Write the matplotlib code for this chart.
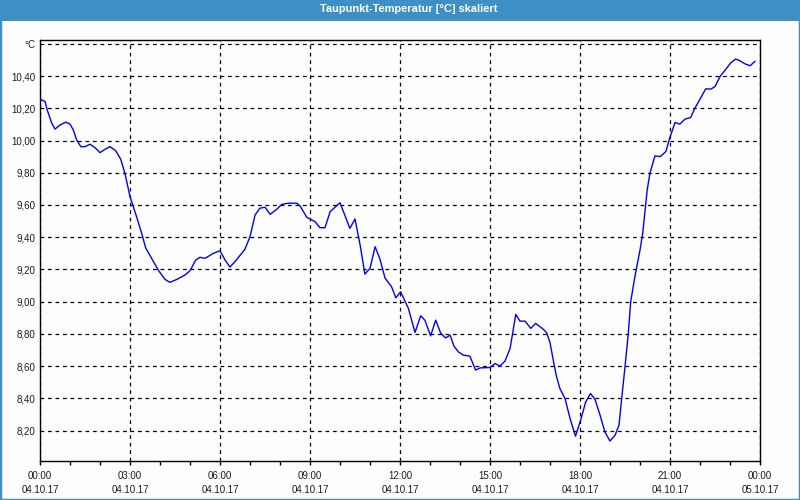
import matplotlib
matplotlib.use('Agg')
import matplotlib.pyplot as plt
from matplotlib.patches import Rectangle
from matplotlib.ticker import FixedLocator, MultipleLocator

# dew point readings, hours after 04.10.17 00:00
hours = [0.00, 0.17, 0.24, 0.39, 0.50, 0.67, 0.86, 1.00, 1.11, 1.22, 1.36, 1.50,
         1.67, 1.83, 2.00, 2.17, 2.33, 2.52, 2.69, 2.83, 3.00, 3.22, 3.39, 3.52,
         3.72, 3.94, 4.17, 4.33, 4.56, 4.83, 5.00, 5.19, 5.33, 5.50, 5.78, 6.00,
         6.17, 6.33, 6.50, 6.83, 7.00, 7.17, 7.33, 7.50, 7.67, 7.89, 8.06, 8.28,
         8.56, 8.67, 8.89, 9.17, 9.33, 9.50, 9.67, 10.00, 10.33, 10.50, 10.67,
         10.83, 11.00, 11.17, 11.33, 11.50, 11.72, 11.86, 12.02, 12.28, 12.50,
         12.69, 12.83, 13.02, 13.19, 13.36, 13.52, 13.67, 13.80, 13.94, 14.11,
         14.33, 14.52, 14.67, 15.00, 15.17, 15.33, 15.50, 15.67, 15.86, 16.00,
         16.17, 16.36, 16.52, 16.78, 16.89, 17.00, 17.13, 17.22, 17.33, 17.50,
         17.67, 17.85, 18.03, 18.19, 18.35, 18.50, 18.67, 18.83, 19.00, 19.17,
         19.30, 19.39, 19.50, 19.61, 19.69, 19.83, 20.00, 20.09, 20.17, 20.24,
         20.33, 20.50, 20.67, 20.86, 21.00, 21.17, 21.33, 21.50, 21.69, 21.83,
         22.02, 22.19, 22.36, 22.50, 22.67, 22.83, 23.02, 23.19, 23.33, 23.50,
         23.67, 23.83]
dewpoint = [10.257, 10.242, 10.19, 10.108, 10.071, 10.097, 10.114, 10.102, 10.066,
            10.004, 9.962, 9.962, 9.977, 9.956, 9.925, 9.946, 9.962, 9.938, 9.884,
            9.797, 9.652, 9.527, 9.424, 9.335, 9.269, 9.196, 9.138, 9.120, 9.138,
            9.165, 9.192, 9.258, 9.275, 9.269, 9.300, 9.316, 9.258, 9.215, 9.248,
            9.325, 9.403, 9.538, 9.580, 9.586, 9.542, 9.573, 9.604, 9.611, 9.611,
            9.594, 9.524, 9.496, 9.459, 9.459, 9.558, 9.614, 9.455, 9.513, 9.352,
            9.171, 9.207, 9.341, 9.265, 9.147, 9.092, 9.024, 9.061, 8.958, 8.809,
            8.912, 8.885, 8.788, 8.885, 8.803, 8.775, 8.792, 8.724, 8.689, 8.668,
            8.662, 8.575, 8.589, 8.591, 8.616, 8.600, 8.631, 8.710, 8.921, 8.879,
            8.879, 8.834, 8.865, 8.828, 8.807, 8.746, 8.616, 8.533, 8.461, 8.399,
            8.274, 8.165, 8.270, 8.378, 8.430, 8.394, 8.295, 8.191, 8.135, 8.171,
            8.233, 8.399, 8.595, 8.803, 9.000, 9.155, 9.320, 9.424, 9.569, 9.693,
            9.797, 9.905, 9.900, 9.931, 10.021, 10.112, 10.102, 10.133, 10.143,
            10.201, 10.263, 10.321, 10.319, 10.335, 10.398, 10.435, 10.481, 10.506,
            10.495, 10.476, 10.464, 10.491]

x_ticks = [0, 3, 6, 9, 12, 15, 18, 21, 24]
x_labels = ['00:00\n04.10.17', '03:00\n04.10.17', '06:00\n04.10.17',
            '09:00\n04.10.17', '12:00\n04.10.17', '15:00\n04.10.17',
            '18:00\n04.10.17', '21:00\n04.10.17', '00:00\n05.10.17']
y_ticks = [8.2, 8.4, 8.6, 8.8, 9.0, 9.2, 9.4, 9.6, 9.8, 10.0, 10.2, 10.4, 10.6]
y_labels = ['8,20', '8,40', '8,60', '8,80', '9,00', '9,20', '9,40', '9,60',
            '9,80', '10,00', '10,20', '10,40', '°C']

title = 'Taupunkt-Temperatur [°C] skaliert'
frame_blue = '#3d8fc6'
text_col = '#1c1c1c'

plt.rcParams['font.family'] = ['Liberation Sans', 'DejaVu Sans']

fig = plt.figure(figsize=(8, 5), dpi=100, facecolor='#fcfdfc')

# title bar and window frame
fig.patches.append(Rectangle((0, 0.959), 1, 0.041, transform=fig.transFigure,
                             facecolor=frame_blue, edgecolor='none', zorder=0))
fig.patches.append(Rectangle((0, 0), 1, 1, transform=fig.transFigure,
                             facecolor='none', edgecolor=frame_blue, lw=2.5,
                             zorder=1))
fig.text(0.511, 0.982, title, ha='center', va='center', color='white',
         fontsize=7.9, fontweight='bold')

ax = fig.add_axes([0.05, 0.078, 0.90, 0.842])
ax.set_facecolor('#fcfdfc')
ax.plot(hours, dewpoint, color='#0000ff', lw=1.0, zorder=3)

ax.set_xlim(0, 24)
ax.set_ylim(8.011, 10.624)

ax.xaxis.set_major_locator(FixedLocator(x_ticks))
ax.xaxis.set_minor_locator(MultipleLocator(1))
ax.set_xticklabels(x_labels, color=text_col, fontsize=7, linespacing=1.5)
ax.yaxis.set_major_locator(FixedLocator(y_ticks))
ax.set_yticklabels(y_labels, color=text_col, fontsize=7)

ax.tick_params(axis='x', which='both', direction='out', length=3, width=1,
               color='black', pad=4)
ax.tick_params(axis='y', which='both', length=0, pad=3)

ax.grid(True, which='major', color='black', linestyle=(0, (3, 3)), lw=0.9)

for s in ax.spines.values():
    s.set_color('black')
    s.set_linewidth(1.0)

fig.savefig('out.png', dpi=100, facecolor=fig.get_facecolor())
